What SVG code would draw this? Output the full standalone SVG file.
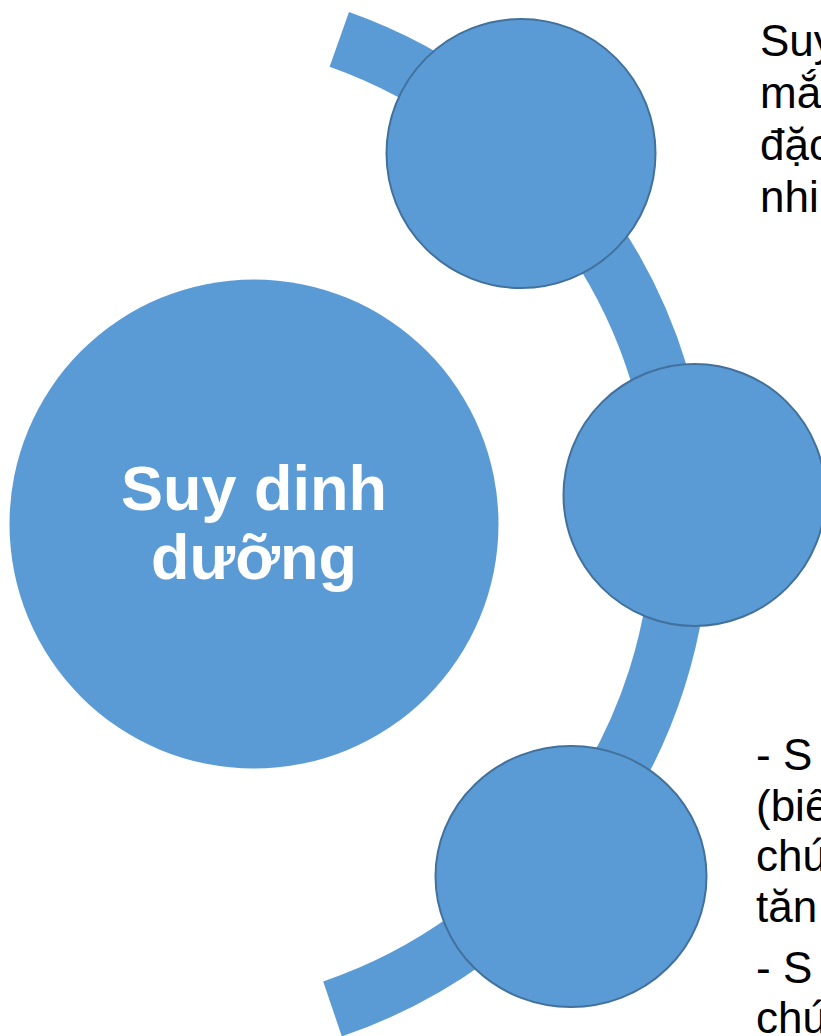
<svg xmlns="http://www.w3.org/2000/svg" width="821" height="1036" viewBox="0 0 821 1036">
<style>
.node{fill:#5B9BD5;stroke:#41719C;stroke-width:2}
.main{fill:#5B9BD5}
.band{fill:none;stroke:#5B9BD5;stroke-width:58;stroke-linecap:butt}
.title{font-family:"Liberation Sans",Arial,sans-serif;font-weight:bold;font-size:63px;fill:#FFFFFF;text-anchor:middle}
.desc{font-family:"Liberation Sans",Arial,sans-serif;font-size:44px;fill:#000000}
</style>
<rect width="821" height="1036" fill="#FFFFFF"/>
<g id="connectors">
<path class="band" d="M 339.3 39.4 A 513 513 0 0 1 332.5 1008.9"/>
</g>
<g id="node-main">
<circle class="main" cx="254" cy="524" r="244.5"/>
<text class="title" x="254" y="510">Suy dinh</text>
<text class="title" x="254" y="579">dưỡng</text>
</g>
<g id="node-1">
<circle class="node" cx="521" cy="153.5" r="134.5"/>
</g>
<g id="node-2">
<circle class="node" cx="694.5" cy="495" r="131"/>
</g>
<g id="node-3">
<ellipse class="node" cx="571" cy="876.5" rx="135.5" ry="130.5"/>
</g>
<g id="text-1">
<text class="desc" x="760" y="56">Suy</text>
<text class="desc" x="760" y="108">mắ</text>
<text class="desc" x="760" y="160">đặc</text>
<text class="desc" x="760" y="212">nhi</text>
</g>
<g id="text-3">
<text class="desc" x="756" y="770">- S</text>
<text class="desc" x="756" y="820.5">(biế</text>
<text class="desc" x="756" y="871">chứ</text>
<text class="desc" x="756" y="921.5">tăn</text>
<text class="desc" x="756" y="982.5">- S</text>
<text class="desc" x="756" y="1033">chứ</text>
</g>
</svg>
